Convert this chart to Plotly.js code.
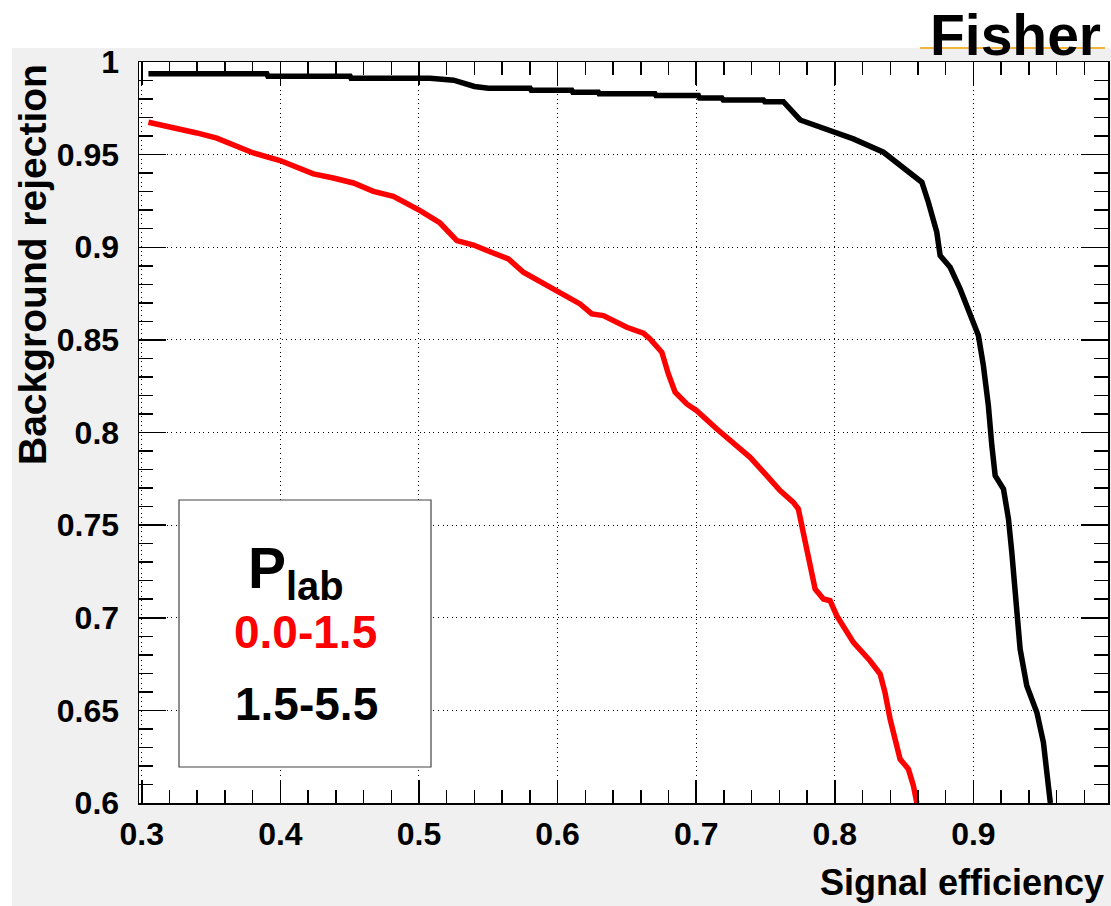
<!DOCTYPE html>
<html>
<head>
<meta charset="utf-8">
<script src="https://cdn.plot.ly/plotly-3.0.1.min.js"></script>
<style>html,body{margin:0;padding:0;background:#fff;}#plot{width:1111px;height:906px;}</style>
</head>
<body>
<div id="plot"></div>
<script>
// Signal efficiency vs background rejection, Fisher classifier
const effRed = [0.3048,0.3228,0.3397,0.3541,0.3661,0.3805,0.3998,0.4238,0.4382,0.4527,0.4671,0.4815,0.5008,0.5152,0.5273,0.5393,0.5513,0.5645,0.5753,0.5994,0.6162,0.6247,0.6330,0.6499,0.6619,0.6667,0.6752,0.6799,0.6848,0.6932,0.7004,0.7149,0.7268,0.7389,0.7509,0.7605,0.7701,0.7737,0.7762,0.7810,0.7858,0.7918,0.7966,0.8014,0.8062,0.8134,0.8254,0.8327,0.8362,0.8399,0.8447,0.8471,0.8531,0.8567,0.8592];
const rejRed = [0.9675,0.9648,0.9617,0.9589,0.9549,0.9509,0.9468,0.9396,0.9374,0.9347,0.9302,0.9275,0.9198,0.9131,0.9036,0.9012,0.8976,0.8937,0.8865,0.8766,0.8694,0.8640,0.8631,0.8568,0.8536,0.8505,0.8433,0.8316,0.8217,0.8154,0.8118,0.8019,0.7947,0.7866,0.7767,0.7686,0.7623,0.7587,0.7497,0.7317,0.7155,0.7101,0.7092,0.7011,0.6957,0.6867,0.6768,0.6696,0.6597,0.6453,0.6309,0.6237,0.6183,0.6093,0.6000];

const effBlack = [0.3048,0.3902,0.3910,0.4503,0.4510,0.5080,0.5250,0.5300,0.5400,0.5501,0.5802,0.5810,0.6102,0.6110,0.6294,0.6300,0.6703,0.6710,0.7016,0.7025,0.7185,0.7195,0.7485,0.7495,0.7629,0.7750,0.7846,0.7990,0.8134,0.8351,0.8471,0.8628,0.8675,0.8736,0.8760,0.8832,0.8904,0.8976,0.9036,0.9072,0.9108,0.9133,0.9157,0.9217,0.9253,0.9277,0.9313,0.9337,0.9385,0.9458,0.9505,0.9541,0.9555];
const rejBlack = [0.9936,0.9936,0.9923,0.9923,0.9912,0.9912,0.9902,0.9890,0.9868,0.9858,0.9858,0.9848,0.9848,0.9837,0.9837,0.9828,0.9828,0.9819,0.9819,0.9806,0.9806,0.9795,0.9795,0.9786,0.9786,0.9687,0.9662,0.9621,0.9585,0.9513,0.9441,0.9351,0.9243,0.9081,0.8955,0.8892,0.8775,0.8640,0.8523,0.8361,0.8145,0.7929,0.7767,0.7695,0.7533,0.7353,0.7083,0.6831,0.6633,0.6489,0.6327,0.6120,0.6000];

const legendTitle = 'P<sub>lab</sub>';
const seriesLabels = ['0.0-1.5', '1.5-5.5'];
const seriesColors = ['#ff0000', '#000000'];
const chartTitle = 'Fisher';
const xTitle = 'Signal efficiency';
const yTitle = 'Background rejection';

const FONT = 'Liberation Sans, Arial, Helvetica, sans-serif';

const traces = [
  {x: effRed, y: rejRed, mode: 'lines', line: {color: seriesColors[0], width: 5.5}, showlegend: false, hoverinfo: 'skip'},
  {x: effBlack, y: rejBlack, mode: 'lines', line: {color: seriesColors[1], width: 5.5}, showlegend: false, hoverinfo: 'skip'}
];

const W = 1111, H = 906, L = 139, R = 3, T = 62, B = 103;
const pw = W - L - R, ph = H - T - B;
const px = v => (v - L) / pw;
const py = v => (H - B - v) / ph;

const axisCommon = {
  ticks: 'inside', tickcolor: '#000', tickwidth: 1.5,
  showline: true, linecolor: '#000', linewidth: 1.5, mirror: 'allticks',
  showgrid: true, gridcolor: '#000', gridwidth: 1, griddash: '1px,3.6px',
  zeroline: false,
  tickfont: {family: FONT, size: 32, color: '#000', weight: 'bold'},
  tickmode: 'linear'
};

const layout = {
  width: W, height: H,
  margin: {l: L, r: R, t: T, b: B, pad: 0},
  paper_bgcolor: '#f0f0f0',
  plot_bgcolor: '#ffffff',
  showlegend: false,
  xaxis: Object.assign({}, axisCommon, {
    range: [0.298, 0.9971], tick0: 0.3, dtick: 0.1, ticklen: 23,
    ticklabelstandoff: 2,
    minor: {tick0: 0.3, dtick: 0.02, ticks: 'inside', ticklen: 13, tickcolor: '#000', tickwidth: 1.5, showgrid: false}
  }),
  yaxis: Object.assign({}, axisCommon, {
    range: [0.6, 1.0], tick0: 0.6, dtick: 0.05, ticklen: 27,
    ticklabelstandoff: 12,
    minor: {tick0: 0.6, dtick: 0.01, ticks: 'inside', ticklen: 14, tickcolor: '#000', tickwidth: 1.5, showgrid: false}
  }),
  shapes: [
    {type: 'rect', xref: 'paper', yref: 'paper', x0: px(0), x1: px(W), y0: py(48), y1: py(0), fillcolor: '#ffffff', line: {width: 0}, layer: 'below'},
    {type: 'rect', xref: 'paper', yref: 'paper', x0: px(0), x1: px(12), y0: py(H), y1: py(0), fillcolor: '#ffffff', line: {width: 0}, layer: 'below'},
    {type: 'line', xref: 'paper', yref: 'paper', x0: px(920), x1: px(1105), y0: py(48), y1: py(48), line: {color: '#f2b53c', width: 2}},
    {type: 'rect', xref: 'paper', yref: 'paper', x0: px(179), x1: px(431), y0: py(767), y1: py(500), fillcolor: '#ffffff', line: {color: '#444', width: 1.2}, layer: 'above'}
  ],
  annotations: [
    {text: chartTitle, xref: 'paper', yref: 'paper', x: px(1103), y: py(35), xanchor: 'right', yanchor: 'middle', showarrow: false,
     font: {family: FONT, size: 57, color: '#000', weight: 'bold'}},
    {text: xTitle, xref: 'paper', yref: 'paper', x: px(1106), y: py(882), xanchor: 'right', yanchor: 'middle', showarrow: false,
     font: {family: FONT, size: 36, color: '#000', weight: 'bold'}},
    {text: yTitle, xref: 'paper', yref: 'paper', x: px(32), y: py(265), xanchor: 'center', yanchor: 'middle', textangle: -90, showarrow: false,
     font: {family: FONT, size: 39, color: '#000', weight: 'bold'}},
    {text: legendTitle, xref: 'paper', yref: 'paper', x: px(296), y: py(572), xanchor: 'center', yanchor: 'middle', showarrow: false,
     font: {family: FONT, size: 57, color: '#000', weight: 'bold'}},
    {text: seriesLabels[0], xref: 'paper', yref: 'paper', x: px(305), y: py(632), xanchor: 'center', yanchor: 'middle', showarrow: false,
     font: {family: FONT, size: 46, color: seriesColors[0], weight: 'bold'}},
    {text: seriesLabels[1], xref: 'paper', yref: 'paper', x: px(306), y: py(704), xanchor: 'center', yanchor: 'middle', showarrow: false,
     font: {family: FONT, size: 46, color: seriesColors[1], weight: 'bold'}}
  ]
};

Plotly.newPlot('plot', traces, layout, {displayModeBar: false, staticPlot: true});
</script>
</body>
</html>
